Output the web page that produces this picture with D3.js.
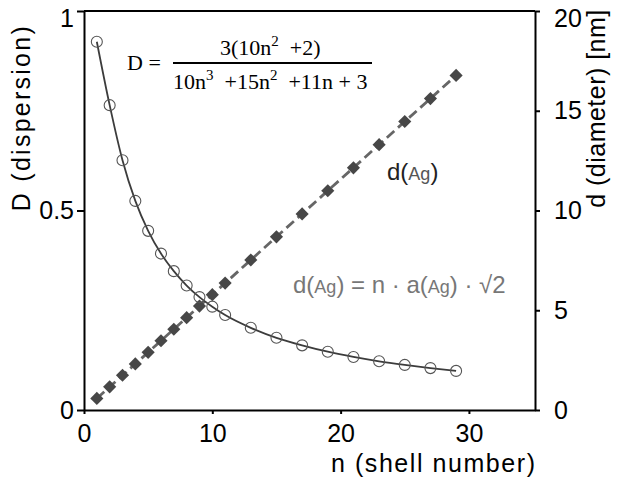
<!DOCTYPE html>
<html>
<head>
<meta charset="utf-8">
<script src="https://cdn.jsdelivr.net/npm/d3@7"></script>
<style>
  body { margin: 0; background: #fff; }
  svg text { font-family: "Liberation Sans", Arial, sans-serif; }
  .axis path, .axis line { stroke: #000; stroke-width: 2; }
  .axis text { font-size: 25px; fill: #000; }
</style>
</head>
<body>
<div id="chart"></div>
<script>
// shell number n for every measured point
const shells = [1, 2, 3, 4, 5, 6, 7, 8, 9, 10, 11, 13, 15, 17, 19, 21, 23, 25, 27, 29];
// dispersion D (left axis)
const dispersion = [0.923, 0.764, 0.626, 0.524, 0.449, 0.392, 0.348, 0.312, 0.283, 0.259,
  0.238, 0.206, 0.181, 0.162, 0.146, 0.133, 0.122, 0.113, 0.105, 0.098];
// diameter d in nm (right axis)
const diameter = [0.58, 1.16, 1.74, 2.31, 2.89, 3.47, 4.05, 4.63, 5.21, 5.78,
  6.36, 7.52, 8.68, 9.83, 10.99, 12.14, 13.30, 14.46, 15.61, 16.77];

const xTicks = [0, 10, 20, 30];
const leftTicks = [0, 0.5, 1];
const rightTicks = [0, 5, 10, 15, 20];

const width = 620, height = 490;
const margin = {top: 11, right: 85, bottom: 80, left: 84};

const svg = d3.select('#chart').append('svg')
    .attr('width', width)
    .attr('height', height);

const x = d3.scaleLinear().domain([0, 35.15]).range([margin.left, width - margin.right]);
const yL = d3.scaleLinear().domain([0, 1]).range([height - margin.bottom, margin.top]);
const yR = d3.scaleLinear().domain([0, 20]).range([height - margin.bottom, margin.top]);

const fmtL = d => d === 0.5 ? '0.5' : d3.format('d')(d);

// axes
svg.append('g').attr('class', 'axis')
    .attr('transform', `translate(0,${height - margin.bottom})`)
    .call(d3.axisBottom(x).tickValues(xTicks).tickSize(4).tickSizeOuter(0).tickPadding(10));

const gL = svg.append('g').attr('class', 'axis')
    .attr('transform', `translate(${margin.left},0)`)
    .call(d3.axisLeft(yL).tickValues(leftTicks).tickFormat(fmtL).tickSize(7).tickSizeOuter(0).tickPadding(3));

const gR = svg.append('g').attr('class', 'axis')
    .attr('transform', `translate(${width - margin.right},0)`)
    .call(d3.axisRight(yR).tickValues(rightTicks).tickSize(5).tickSizeOuter(0).tickPadding(14));

// top labels sit a little lower so they stay inside the page
gL.selectAll('.tick text').filter(d => d === 1).attr('dy', '0.6em');
gR.selectAll('.tick text').filter(d => d === 20).attr('dy', '0.6em');

// top frame line
svg.append('line')
    .attr('x1', margin.left).attr('x2', width - margin.right)
    .attr('y1', margin.top).attr('y2', margin.top)
    .attr('stroke', '#000').attr('stroke-width', 2);

// axis titles
svg.append('text')
    .attr('transform', `translate(30,${yL(0.73)}) rotate(-90)`)
    .attr('text-anchor', 'middle')
    .attr('textLength', 185)
    .style('font-size', '25px')
    .text('D (dispersion)');

svg.append('text')
    .attr('transform', `translate(605,${yR(15.1)}) rotate(-90)`)
    .attr('text-anchor', 'middle')
    .attr('textLength', 198)
    .style('font-size', '25px')
    .text('d (diameter) [nm]');

svg.append('text')
    .attr('x', width - margin.right)
    .attr('y', 472)
    .attr('text-anchor', 'end')
    .attr('textLength', 204)
    .style('font-size', '25px')
    .text('n (shell number)');

const pts = shells.map((n, i) => ({n: n, D: dispersion[i], d: diameter[i]}));

// diameter: dashed line + diamonds
svg.append('path')
    .datum(pts)
    .attr('fill', 'none')
    .attr('stroke', '#666')
    .attr('stroke-width', 2.8)
    .attr('stroke-dasharray', '10,5')
    .attr('d', d3.line().x(d => x(d.n)).y(d => yR(d.d)));

svg.selectAll('.diamond')
    .data(pts)
  .join('path')
    .attr('class', 'diamond')
    .attr('transform', d => `translate(${x(d.n)},${yR(d.d)})`)
    .attr('d', d3.symbol().type(d3.symbolDiamond2).size(110))
    .attr('fill', '#474747');

// dispersion: smooth curve + open circles
svg.append('path')
    .datum(pts)
    .attr('fill', 'none')
    .attr('stroke', '#3c3c3c')
    .attr('stroke-width', 1.8)
    .attr('d', d3.line().curve(d3.curveMonotoneX).x(d => x(d.n)).y(d => yL(d.D)));

svg.selectAll('.circ')
    .data(pts)
  .join('circle')
    .attr('class', 'circ')
    .attr('cx', d => x(d.n))
    .attr('cy', d => yL(d.D))
    .attr('r', 5.5)
    .attr('fill', 'none')
    .attr('stroke', '#555')
    .attr('stroke-width', 1.1);

// formula for D (Times)
const serif = '"Liberation Serif", "Times New Roman", serif';
const fg = svg.append('g');
fg.append('text').attr('x', 127).attr('y', 70)
    .style('font-family', serif).style('font-size', '22px').text('D =');
fg.append('line').attr('x1', 173).attr('x2', 372).attr('y1', 63).attr('y2', 63)
    .attr('stroke', '#000').attr('stroke-width', 1.8);

const num = fg.append('text').attr('x', 220).attr('y', 55)
    .style('font-family', serif).style('font-size', '22px');
num.append('tspan').text('3(10n');
num.append('tspan').attr('dy', -9).style('font-size', '15px').text('2');
num.append('tspan').attr('dy', 9).text(' \u00a0+2)');

const den = fg.append('text').attr('x', 173).attr('y', 89)
    .style('font-family', serif).style('font-size', '22px');
den.append('tspan').text('10n');
den.append('tspan').attr('dy', -9).style('font-size', '15px').text('3');
den.append('tspan').attr('dy', 9).text(' \u00a0+15n');
den.append('tspan').attr('dy', -9).style('font-size', '15px').text('2');
den.append('tspan').attr('dy', 9).text(' \u00a0+11n + 3');

// d(Ag) labels
const lab = svg.append('text').attr('x', 387).attr('y', 180)
    .style('font-size', '24px').attr('fill', '#222');
lab.append('tspan').text('d(');
lab.append('tspan').style('font-size', '18px').attr('fill', '#555').text('Ag');
lab.append('tspan').text(')');

const eq = svg.append('text').attr('x', 293).attr('y', 293)
    .style('font-size', '24px').attr('fill', '#777');
eq.append('tspan').text('d(');
eq.append('tspan').style('font-size', '18px').text('Ag');
eq.append('tspan').text(') = n \u00b7 a(');
eq.append('tspan').style('font-size', '18px').text('Ag');
eq.append('tspan').text(') \u00b7 \u221a2');
</script>
</body>
</html>
